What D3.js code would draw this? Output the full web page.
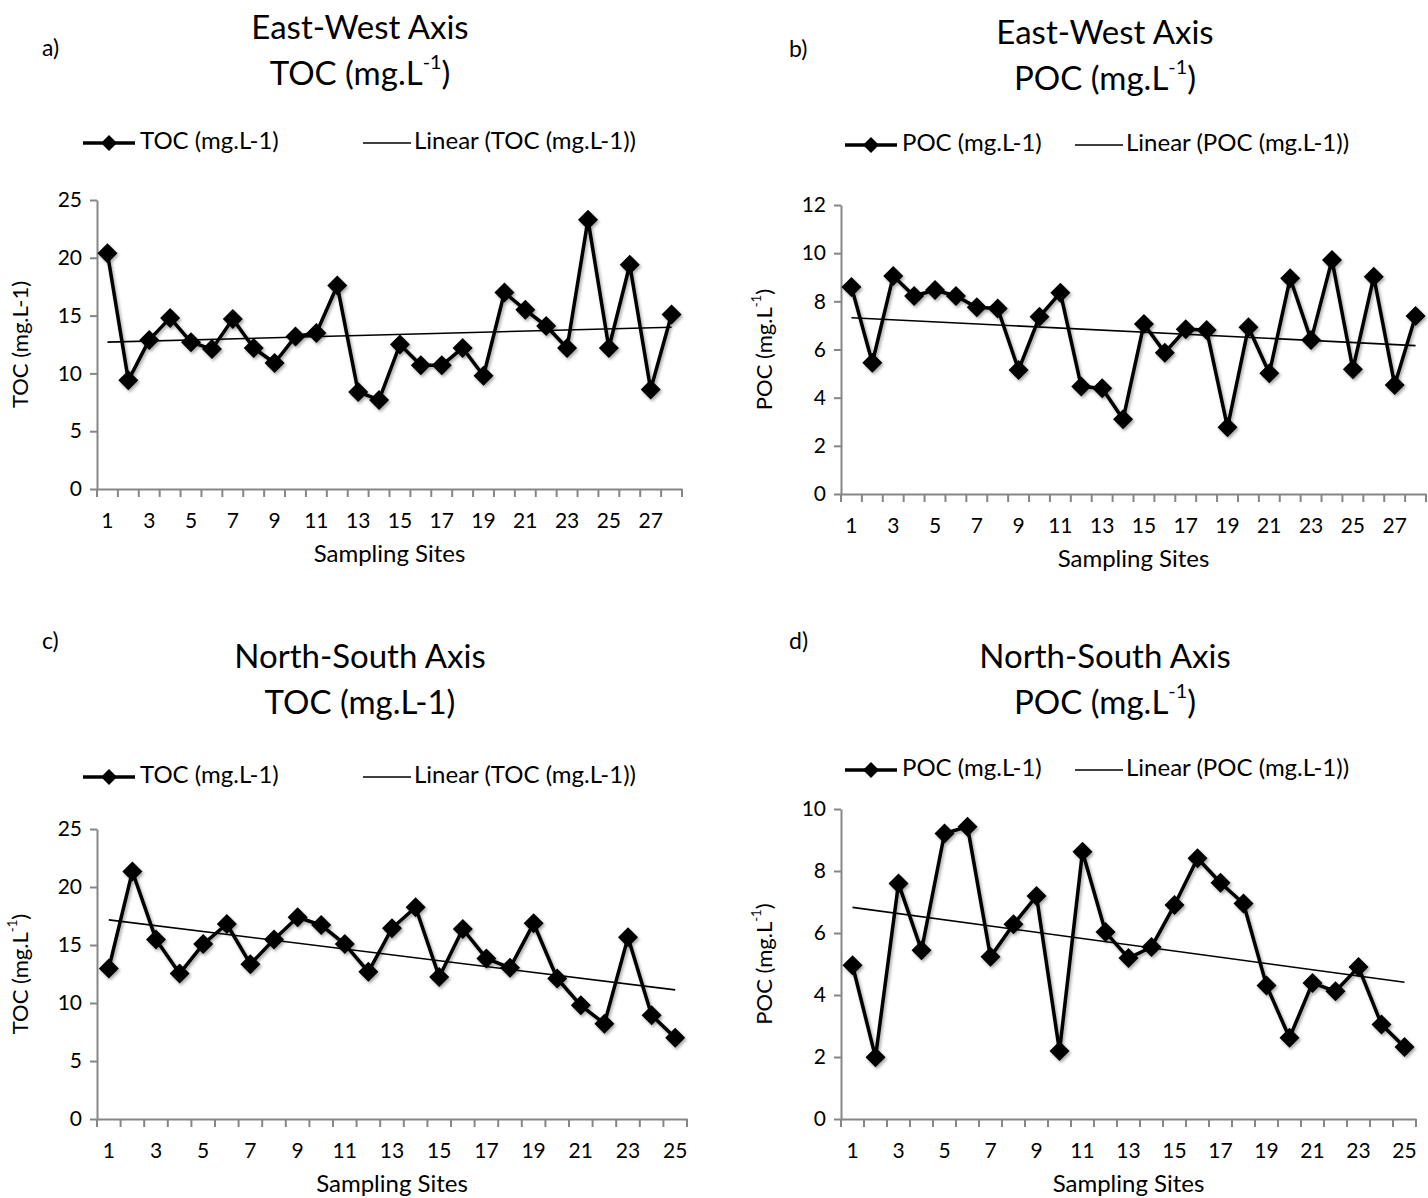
<!DOCTYPE html>
<html>
<head>
<meta charset="utf-8">
<script src="https://cdn.jsdelivr.net/npm/d3@7"></script>
<style>
  body { margin: 0; background: #fff; }
  text { font-family: Lato, "Open Sans", sans-serif; fill: #000; }
</style>
</head>
<body>
<div id="chart"></div>
<script>
// values
const ewSites = d3.range(1, 29);
const nsSites = d3.range(1, 26);

const ewTOC = [20.4, 9.4, 12.9, 14.8, 12.7, 12.1, 14.7, 12.2, 10.9, 13.2, 13.5, 17.6, 8.4, 7.7,
               12.5, 10.7, 10.7, 12.2, 9.8, 17.0, 15.5, 14.1, 12.2, 23.3, 12.2, 19.4, 8.6, 15.1];
const ewPOC = [8.6, 5.45, 9.05, 8.22, 8.47, 8.22, 7.75, 7.7, 5.15, 7.36, 8.36, 4.46, 4.39, 3.1,
               7.06, 5.87, 6.84, 6.81, 2.77, 6.92, 5.01, 8.96, 6.39, 9.72, 5.18, 9.02, 4.53, 7.39];
const nsTOC = [12.98, 21.34, 15.48, 12.54, 15.08, 16.81, 13.35, 15.48, 17.39, 16.72, 15.08, 12.69,
               16.44, 18.25, 12.25, 16.38, 13.84, 13.03, 16.87, 12.11, 9.8, 8.22, 15.66, 8.94, 7.0];
const nsPOC = [4.96, 1.99, 7.6, 5.44, 9.21, 9.43, 5.23, 6.28, 7.19, 2.19, 8.62, 6.03, 5.19, 5.55,
               6.9, 8.41, 7.62, 6.95, 4.31, 2.62, 4.39, 4.12, 4.9, 3.05, 2.32];

const tocTicks = [0, 5, 10, 15, 20, 25];
const ewPocTicks = [0, 2, 4, 6, 8, 10, 12];
const nsPocTicks = [0, 2, 4, 6, 8, 10];

const width = 1428, height = 1198;
const axisColor = '#868686';

const svg = d3.select('#chart').append('svg')
    .attr('width', width)
    .attr('height', height);

// soft shadow like the Excel series
const defs = svg.append('defs');
const shadow = defs.append('filter').attr('id', 'shadow')
    .attr('x', '-20%').attr('y', '-20%').attr('width', '140%').attr('height', '140%');
shadow.append('feDropShadow')
    .attr('dx', 1.5).attr('dy', 2).attr('stdDeviation', 1.5)
    .attr('flood-color', '#000').attr('flood-opacity', 0.35);

const diamond = (h) => `M0,${-h}L${h},0L0,${h}L${-h},0Z`;

// unit text with optional superscript "-1"
function unitText(sel, name, sup, size) {
    if (sup) {
        sel.append('tspan').text(name + ' (mg.L');
        sel.append('tspan').text('-1').attr('font-size', size * 0.6).attr('dy', -size * 0.38);
        sel.append('tspan').text(')').attr('dy', size * 0.38);
    } else {
        sel.text(name + ' (mg.L-1)');
    }
}

function drawPanel(p) {
    const g = svg.append('g');

    const x = d3.scaleBand().domain(p.sites).range([p.left, p.right]);
    const y = d3.scaleLinear().domain([0, p.yMax]).range([p.bottom, p.top]);
    const cx = (d) => x(d) + x.bandwidth() / 2;

    // y axis
    const yAxis = g.append('g').attr('transform', `translate(${p.left},0)`)
        .call(d3.axisLeft(y).tickValues(p.yTicks).tickSize(7).tickPadding(8).tickSizeOuter(0));
    yAxis.selectAll('text').attr('font-size', 21).attr('fill', '#000');

    // x axis: ticks on category boundaries, labels on odd sites
    const xAxis = g.append('g').attr('transform', `translate(0,${p.bottom})`)
        .call(d3.axisBottom(x).tickSize(0).tickPadding(24)
            .tickFormat((d) => (d % 2 === 1 ? d : '')));
    xAxis.selectAll('text').attr('font-size', 21).attr('fill', '#000');
    xAxis.selectAll('.tick line').remove();
    xAxis.selectAll('.boundary')
        .data(d3.range(p.sites.length + 1))
        .enter().append('line')
        .attr('x1', (i) => p.left + i * x.step())
        .attr('x2', (i) => p.left + i * x.step())
        .attr('y1', 0).attr('y2', 8);
    g.selectAll('.domain, line').attr('stroke', axisColor).attr('stroke-width', 2);

    // panel label and title
    g.append('text').attr('x', p.labelX).attr('y', p.labelY)
        .attr('font-size', 23).attr('dominant-baseline', 'middle').text(p.label);
    g.append('text').attr('x', p.titleX).attr('y', p.titleY)
        .attr('font-size', 33).attr('text-anchor', 'middle').attr('dominant-baseline', 'middle')
        .text(p.title);
    g.append('text').attr('x', p.titleX).attr('y', p.titleY + 46)
        .attr('font-size', 33).attr('text-anchor', 'middle').attr('dominant-baseline', 'middle')
        .call(unitText, p.name, p.titleSup, 33);

    // legend
    const lg = g.append('g').attr('transform', `translate(${p.legendX},${p.legendY})`);
    lg.append('line').attr('x1', 0).attr('x2', 52).attr('stroke', '#000').attr('stroke-width', 3.5);
    lg.append('path').attr('d', diamond(8)).attr('transform', 'translate(26,0)').attr('fill', '#000');
    lg.append('text').attr('x', 57).attr('font-size', 24).attr('dominant-baseline', 'middle')
        .text(p.name + ' (mg.L-1)');
    lg.append('line').attr('x1', p.linearX).attr('x2', p.linearX + 48)
        .attr('stroke', '#000').attr('stroke-width', 1.5);
    lg.append('text').attr('x', p.linearX + 51).attr('font-size', 24).attr('dominant-baseline', 'middle')
        .text('Linear (' + p.name + ' (mg.L-1))');

    // axis titles
    g.append('text').attr('x', (p.left + p.right) / 2).attr('y', p.bottom + 67)
        .attr('font-size', 24).attr('text-anchor', 'middle').attr('dominant-baseline', 'middle')
        .text('Sampling Sites');
    g.append('text')
        .attr('transform', `translate(${p.left - 75},${(p.top + p.bottom) / 2}) rotate(-90)`)
        .attr('font-size', 22).attr('text-anchor', 'middle').attr('dominant-baseline', 'middle')
        .call(unitText, p.name, p.axisSup, 22);

    // linear trend (least squares on site index)
    const xs = p.sites, ys = p.values;
    const mx = d3.mean(xs), my = d3.mean(ys);
    const slope = d3.sum(xs, (d, i) => (d - mx) * (ys[i] - my)) / d3.sum(xs, (d) => (d - mx) ** 2);
    const icpt = my - slope * mx;
    const first = xs[0], last = xs[xs.length - 1];

    // series
    const series = g.append('g').attr('filter', 'url(#shadow)');
    const line = d3.line().x((d) => cx(d.site)).y((d) => y(d.v));
    const pts = xs.map((s, i) => ({ site: s, v: ys[i] }));
    series.append('path').datum(pts).attr('d', line)
        .attr('fill', 'none').attr('stroke', '#000').attr('stroke-width', 3.5)
        .attr('stroke-linejoin', 'round');
    series.selectAll('.pt').data(pts).enter().append('path')
        .attr('d', diamond(10))
        .attr('transform', (d) => `translate(${cx(d.site)},${y(d.v)})`)
        .attr('fill', '#000');

    g.append('line')
        .attr('x1', cx(first)).attr('y1', y(slope * first + icpt))
        .attr('x2', cx(last)).attr('y2', y(slope * last + icpt))
        .attr('stroke', '#000').attr('stroke-width', 1.6);
}

drawPanel({
    sites: ewSites, values: ewTOC, yMax: 25, yTicks: tocTicks, name: 'TOC',
    left: 97, right: 682, top: 200, bottom: 489,
    label: 'a)', labelX: 42, labelY: 50, title: 'East-West Axis', titleX: 360, titleY: 31,
    titleSup: true, axisSup: false, legendX: 83, legendY: 143, linearX: 280
});
drawPanel({
    sites: ewSites, values: ewPOC, yMax: 12, yTicks: ewPocTicks, name: 'POC',
    left: 841, right: 1426, top: 205, bottom: 494,
    label: 'b)', labelX: 789, labelY: 51, title: 'East-West Axis', titleX: 1105, titleY: 36,
    titleSup: true, axisSup: true, legendX: 845, legendY: 145, linearX: 230
});
drawPanel({
    sites: nsSites, values: nsTOC, yMax: 25, yTicks: tocTicks, name: 'TOC',
    left: 97, right: 687, top: 829, bottom: 1119,
    label: 'c)', labelX: 42, labelY: 643, title: 'North-South Axis', titleX: 360, titleY: 660,
    titleSup: false, axisSup: true, legendX: 83, legendY: 777, linearX: 280
});
drawPanel({
    sites: nsSites, values: nsPOC, yMax: 10, yTicks: nsPocTicks, name: 'POC',
    left: 841, right: 1416, top: 809, bottom: 1119,
    label: 'd)', labelX: 789, labelY: 643, title: 'North-South Axis', titleX: 1105, titleY: 660,
    titleSup: true, axisSup: true, legendX: 845, legendY: 770, linearX: 230
});
</script>
</body>
</html>
